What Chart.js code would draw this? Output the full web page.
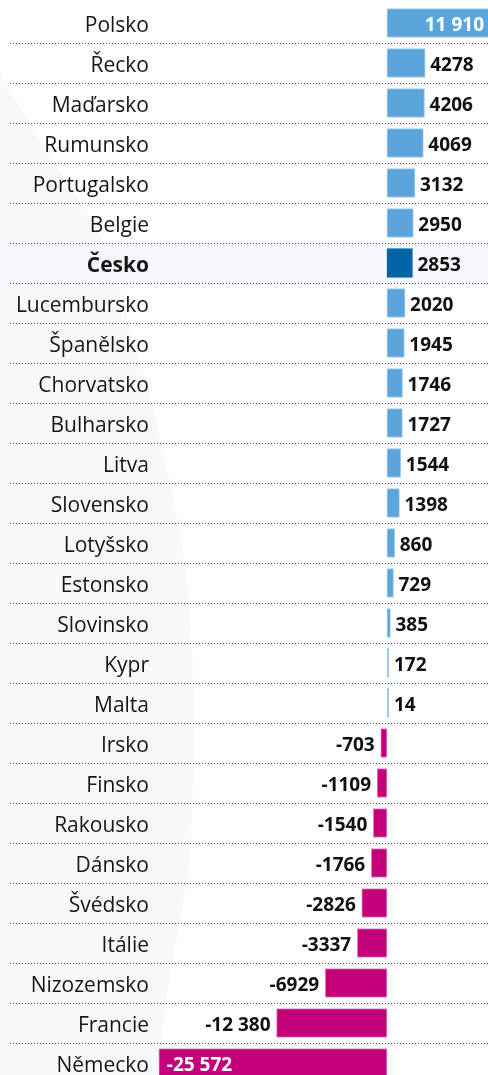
<!DOCTYPE html>
<html>
<head>
<meta charset="utf-8">
<script src="https://cdn.jsdelivr.net/npm/chart.js@4/dist/chart.umd.min.js"></script>
<style>
html,body{margin:0;padding:0;background:#fff;overflow:hidden;}
#wrap{width:488px;height:1085px;}
</style>
</head>
<body>
<div id="wrap"><canvas id="c" width="488" height="1085"></canvas></div>
<script>
const categories = ["Polsko","Řecko","Maďarsko","Rumunsko","Portugalsko","Belgie","Česko","Lucembursko","Španělsko","Chorvatsko","Bulharsko","Litva","Slovensko","Lotyšsko","Estonsko","Slovinsko","Kypr","Malta","Irsko","Finsko","Rakousko","Dánsko","Švédsko","Itálie","Nizozemsko","Francie","Německo"];
const values = [11910,4278,4206,4069,3132,2950,2853,2020,1945,1746,1727,1544,1398,860,729,385,172,14,-703,-1109,-1540,-1766,-2826,-3337,-6929,-12380,-25572];
const highlight = "Česko";

const POS = '#5ba4dc', POS_B = '#a3cdef';
const HL = '#0064a6', HL_B = '#0064a6';
const NEG = '#c5007b', NEG_B = '#e58cc2';
const FONT = '"Open Sans", "Noto Sans", sans-serif';

function fmt(v){
  let s = String(Math.abs(v));
  if (s.length > 4) s = s.replace(/\B(?=(\d{3})+(?!\d))/g, ' ');
  return (v < 0 ? '-' : '') + s;
}

const bgPlugin = {
  id: 'bg',
  beforeDraw(chart){
    const ctx = chart.ctx, W = chart.width, y = chart.scales.y;
    ctx.save();
    ctx.fillStyle = '#fff';
    ctx.fillRect(0,0,W,chart.height);
    const pts = [[0,72],[13,95],[52,160],[110,245],[130,330],[152,400],[178,520],[187,580],[193,660],[194,740],[191,860],[178,930],[167,990],[158,1075],[150,1085]];
    ctx.fillStyle = '#f7f8fc';
    ctx.beginPath();
    ctx.moveTo(pts[0][0],pts[0][1]);
    for (let i=1;i<pts.length-1;i++){
      const mx=(pts[i][0]+pts[i+1][0])/2, my=(pts[i][1]+pts[i+1][1])/2;
      ctx.quadraticCurveTo(pts[i][0],pts[i][1],mx,my);
    }
    ctx.lineTo(150,1085);
    ctx.lineTo(0,1085);
    ctx.closePath();
    ctx.fill();
    const hi = categories.indexOf(highlight);
    const half = (y.getPixelForValue(1) - y.getPixelForValue(0))/2;
    const cy = y.getPixelForValue(hi);
    ctx.fillStyle = '#f4f8fd';
    ctx.fillRect(10, cy-half, W-10, half*2);
    ctx.strokeStyle = '#444';
    ctx.lineWidth = 1;
    ctx.setLineDash([1,2]);
    for (let i=0;i<categories.length-1;i++){
      const py = Math.round(y.getPixelForValue(i) + half) + 0.5;
      ctx.beginPath();
      ctx.moveTo(10, py);
      ctx.lineTo(W, py);
      ctx.stroke();
    }
    ctx.restore();
  }
};

const valuePlugin = {
  id: 'vals',
  afterDatasetsDraw(chart){
    const ctx = chart.ctx, area = chart.chartArea;
    const meta = chart.getDatasetMeta(0);
    ctx.save();
    ctx.font = 'bold 19px ' + FONT;
    ctx.textBaseline = 'middle';
    meta.data.forEach((bar, i) => {
      const v = values[i], t = fmt(v);
      const w = ctx.measureText(t).width;
      const yy = bar.y + 3;
      if (v >= 0){
        if (bar.x + 5 + w <= area.right){
          ctx.fillStyle = '#111'; ctx.textAlign = 'left';
          ctx.fillText(t, bar.x + 5, yy);
        } else {
          ctx.fillStyle = '#fff'; ctx.textAlign = 'right';
          ctx.fillText(t, Math.min(bar.x, area.right) - 4, yy);
        }
      } else {
        if (bar.x - 6 - w >= area.left){
          ctx.fillStyle = '#111'; ctx.textAlign = 'right';
          ctx.fillText(t, bar.x - 6, yy);
        } else {
          ctx.fillStyle = '#fff'; ctx.textAlign = 'left';
          ctx.fillText(t, bar.x + 8, yy);
        }
      }
    });
    ctx.restore();
  }
};

new Chart(document.getElementById('c'), {
  type: 'bar',
  data: {
    labels: categories,
    datasets: [{
      data: values,
      backgroundColor: values.map((v,i) => categories[i] === highlight ? HL : (v < 0 ? NEG : POS)),
      borderColor: values.map((v,i) => categories[i] === highlight ? HL_B : (v < 0 ? NEG_B : POS_B)),
      borderWidth: 1,
      borderSkipped: false,
      barThickness: 29,
      minBarLength: 2
    }]
  },
  options: {
    indexAxis: 'y',
    responsive: false,
    animation: false,
    devicePixelRatio: 1,
    layout: { padding: { top: 3, bottom: 2, left: 0, right: 0 } },
    plugins: { legend: { display: false }, tooltip: { enabled: false } },
    scales: {
      x: { display: false, min: -26000, max: 11320 },
      y: {
        display: true,
        grid: { display: false, drawTicks: false },
        border: { display: false },
        afterFit(scale){ scale.width = 155; scale.paddingTop = 0; scale.paddingBottom = 0; },
        ticks: {
          padding: 6,
          labelOffset: 3,
          color: '#161616',
          font: (c) => ({ family: FONT, size: 21, weight: categories[c.index] === highlight ? 'bold' : 'normal' })
        }
      }
    }
  },
  plugins: [bgPlugin, valuePlugin]
});
</script>
</body>
</html>
